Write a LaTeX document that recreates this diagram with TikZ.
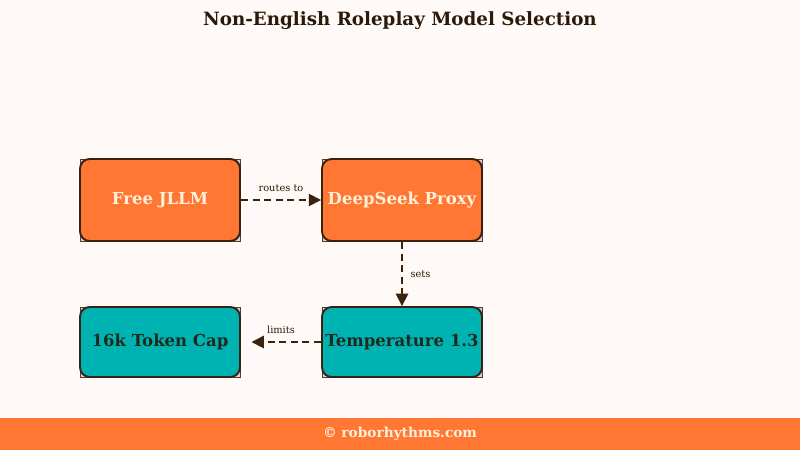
\documentclass[tikz,border=0pt]{standalone}
\usepackage{fontspec}
\setmainfont{DejaVu Serif}
\usetikzlibrary{arrows.meta,positioning}

\definecolor{bgcream}{HTML}{FFFAF7}
\definecolor{boxorange}{HTML}{FF7733}
\definecolor{boxteal}{HTML}{00B3B3}
\definecolor{edgebrown}{HTML}{3A2210}
\definecolor{textcream}{HTML}{FFF0D8}
\definecolor{textdark}{HTML}{1E2A1E}
\definecolor{titlebrown}{HTML}{2A1A0A}
\definecolor{cornergray}{HTML}{D9D2CC}

\tikzset{
  modelbox/.style={draw=edgebrown, line width=1.1pt, rounded corners=5.5pt,
    minimum width=3.2cm, font=\fontsize{9.4}{12}\bfseries, inner sep=0pt},
  hotbox/.style={modelbox, fill=boxorange, text=textcream, minimum height=1.64cm},
  coolbox/.style={modelbox, fill=boxteal, text=textdark, minimum height=1.4cm},
  frame/.style={draw=edgebrown!70!gray, fill=cornergray, line width=0.4pt},
  flow/.style={draw=edgebrown, line width=1pt, dashed, dash pattern=on 4pt off 2.6pt,
    -{Triangle[length=7pt,width=7pt]}},
  tag/.style={font=\fontsize{5.6}{7}\selectfont, text=titlebrown}
}

\begin{document}
\begin{tikzpicture}[x=0.02cm, y=-0.02cm]
    % Background and footer
    \fill[bgcream] (0,0) rectangle (800,450);
    \fill[boxorange] (0,418) rectangle (800,450);
    \node[text=textcream, font=\fontsize{7.8}{9}\bfseries] (footer) at (400,434) {© roborhythms.com};

    % Title
    \node[text=titlebrown, font=\fontsize{10.4}{14}\bfseries] (title) at (400,21) {Non-English Roleplay Model Selection};

    % Corner frames
    \draw[frame] (80,159) rectangle (240,241);
    \draw[frame] (322,159) rectangle (482,241);
    \draw[frame] (80,307) rectangle (240,377);
    \draw[frame] (322,307) rectangle (482,377);

    % Boxes
    \node[hotbox] (jllm) at (160,200) {Free JLLM};
    \node[hotbox] (proxy) at (402,200) {DeepSeek Proxy};
    \node[coolbox] (temp) at (402,342) {Temperature 1.3};
    \node[coolbox] (cap) at (160,342) {16k Token Cap};

    % Connectors
    \draw[flow] (jllm) -- node[tag, above=1pt] {routes to} (proxy);
    \draw[flow] (proxy) -- node[tag, right=1pt] {sets} (temp);
    \draw[flow, shorten >=6pt] (temp) -- node[tag, above=1pt] {limits} (cap);
\end{tikzpicture}
\end{document}
